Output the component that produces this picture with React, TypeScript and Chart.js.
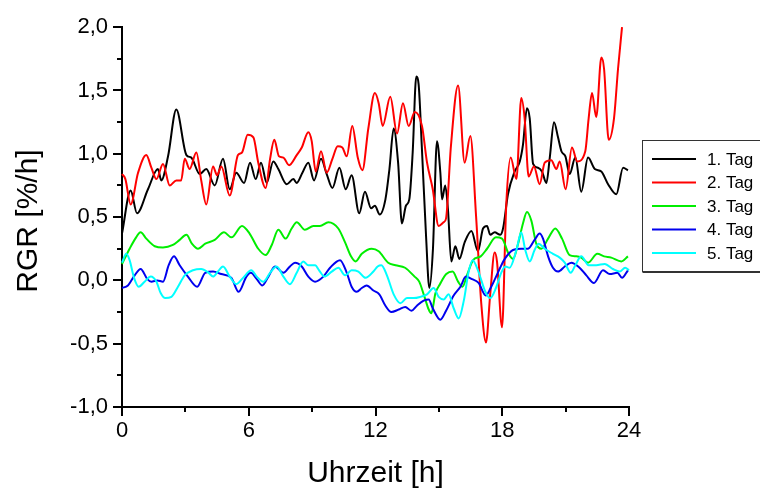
import React, { useEffect, useRef } from "react";
import { Chart, registerables } from "chart.js";

Chart.register(...registerables);

// Relative growth rate over the day, five consecutive days
const tag1Hours = [0, 0.41, 0.71, 1.23, 1.7, 1.86, 2.18, 2.57, 3.05, 3.28, 3.68, 3.99, 4.39, 4.78, 5.1, 5.41, 5.78, 6.06, 6.33, 6.58, 6.85, 7.16, 7.4, 7.8, 8.11, 8.27, 8.54, 8.82, 9.09, 9.42, 9.69, 9.96, 10.29, 10.59, 10.87, 11.23, 11.5, 11.79, 11.97, 12.2, 12.47, 12.66, 12.86, 13.07, 13.25, 13.44, 13.6, 13.76, 13.93, 14.04, 14.2, 14.39, 14.55, 14.72, 14.91, 15.07, 15.15, 15.3, 15.43, 15.59, 15.78, 15.97, 16.22, 16.54, 16.85, 17.09, 17.28, 17.43, 17.64, 17.91, 18.05, 18.27, 18.59, 18.83, 18.98, 19.17, 19.3, 19.46, 19.69, 19.88, 20.09, 20.25, 20.45, 20.64, 20.8, 20.99, 21.19, 21.46, 21.74, 22.06, 22.38, 22.69, 23.01, 23.4, 23.72, 23.95];
const tag1Rgr = [0.37, 0.71, 0.53, 0.72, 0.88, 0.79, 0.98, 1.35, 0.99, 0.97, 0.84, 0.88, 0.75, 0.96, 0.72, 0.85, 0.77, 0.93, 0.8, 0.93, 0.77, 0.94, 0.88, 0.76, 0.8, 0.77, 0.85, 0.93, 0.79, 0.96, 0.84, 0.73, 0.89, 0.72, 0.83, 0.53, 0.7, 0.57, 0.59, 0.52, 0.64, 0.88, 1.2, 0.93, 0.45, 0.59, 0.64, 1.01, 1.61, 1.55, 1.03, 0.36, -0.06, 0.25, 1.1, 0.85, 0.64, 0.75, 0.56, 0.15, 0.27, 0.17, 0.3, 0.39, 0.23, 0.41, 0.43, 0.36, 0.38, 0.36, 0.42, 0.68, 0.86, 0.94, 1.07, 1.36, 1.28, 0.92, 0.89, 0.86, 0.77, 0.97, 1.25, 1.13, 1.02, 0.98, 0.84, 0.97, 0.7, 0.97, 0.88, 0.86, 0.76, 0.68, 0.89, 0.87];

const tag2Hours = [0, 0.16, 0.41, 0.76, 1.15, 1.39, 1.63, 1.94, 2.26, 2.57, 2.8, 2.97, 3.2, 3.52, 3.75, 3.99, 4.31, 4.5, 4.7, 5.1, 5.49, 5.68, 5.95, 6.22, 6.45, 6.8, 7.01, 7.21, 7.43, 7.64, 7.91, 8.27, 8.51, 8.82, 8.98, 9.17, 9.42, 9.69, 9.96, 10.21, 10.43, 10.64, 10.9, 11.16, 11.38, 11.66, 11.97, 12.15, 12.34, 12.7, 13.02, 13.3, 13.57, 13.86, 14.2, 14.44, 14.71, 14.99, 15.23, 15.34, 15.57, 15.91, 16.22, 16.49, 16.76, 17.01, 17.23, 17.43, 17.64, 17.75, 17.99, 18.19, 18.4, 18.67, 18.9, 19.06, 19.25, 19.5, 19.77, 20.01, 20.32, 20.56, 20.72, 21.0, 21.3, 21.55, 21.93, 22.09, 22.25, 22.45, 22.69, 22.82, 23.04, 23.29, 23.48, 23.67];
const tag2Rgr = [0.84, 0.8, 0.6, 0.85, 0.99, 0.89, 0.8, 0.92, 0.75, 0.79, 0.79, 0.96, 0.88, 1.01, 0.79, 0.6, 0.9, 0.83, 0.9, 0.67, 0.99, 1.01, 1.15, 1.13, 0.93, 0.73, 0.96, 1.11, 0.98, 0.97, 0.91, 0.99, 1.05, 1.17, 1.1, 0.86, 1.02, 0.85, 0.96, 1.06, 1.05, 0.98, 1.22, 0.97, 0.87, 1.2, 1.48, 1.4, 1.22, 1.45, 1.16, 1.4, 1.22, 1.33, 1.22, 0.93, 0.72, 0.43, 0.46, 0.49, 1.06, 1.54, 0.93, 1.14, 0.51, -0.19, -0.49, -0.11, 0.22, 0.15, -0.37, 0.6, 0.97, 0.8, 1.44, 1.28, 0.82, 0.9, 0.76, 0.93, 0.95, 0.88, 0.94, 0.72, 1.05, 0.94, 1.02, 1.28, 1.48, 1.29, 1.76, 1.67, 1.11, 1.28, 1.67, 2.0];

const tag3Hours = [0, 0.36, 0.63, 0.88, 1.15, 1.55, 1.94, 2.41, 2.73, 3.05, 3.31, 3.6, 3.94, 4.39, 4.83, 5.18, 5.68, 6.04, 6.45, 6.8, 7.09, 7.4, 7.75, 8.03, 8.27, 8.66, 9.06, 9.37, 9.77, 10.24, 10.56, 10.84, 11.06, 11.35, 11.82, 12.15, 12.6, 12.95, 13.4, 13.85, 14.07, 14.3, 14.52, 14.64, 14.84, 15.05, 15.35, 15.65, 15.91, 16.12, 16.35, 16.62, 16.98, 17.28, 17.7, 17.99, 18.3, 18.51, 18.75, 18.98, 19.17, 19.38, 19.61, 19.85, 20.17, 20.51, 20.83, 21.19, 21.51, 21.74, 22.06, 22.5, 22.82, 23.16, 23.64, 23.95];
const tag3Rgr = [0.13, 0.25, 0.33, 0.38, 0.33, 0.27, 0.26, 0.28, 0.32, 0.36, 0.29, 0.25, 0.29, 0.32, 0.38, 0.34, 0.43, 0.37, 0.25, 0.2, 0.28, 0.4, 0.33, 0.41, 0.46, 0.4, 0.43, 0.43, 0.46, 0.41, 0.3, 0.19, 0.15, 0.21, 0.25, 0.23, 0.14, 0.12, 0.1, 0.03, -0.01, -0.12, -0.23, -0.26, -0.1, -0.03, 0.05, 0.07, -0.01, -0.05, 0.05, 0.16, 0.19, 0.25, 0.34, 0.33, 0.21, 0.17, 0.29, 0.45, 0.54, 0.47, 0.29, 0.25, 0.33, 0.41, 0.33, 0.2, 0.19, 0.18, 0.14, 0.21, 0.19, 0.18, 0.15, 0.19];

const tag4Hours = [0, 0.28, 0.6, 0.88, 1.2, 1.39, 1.67, 1.94, 2.21, 2.46, 2.73, 3.12, 3.56, 3.94, 4.31, 4.7, 5.18, 5.52, 5.89, 6.1, 6.38, 6.64, 6.93, 7.24, 7.64, 7.95, 8.19, 8.51, 8.82, 9.14, 9.53, 9.85, 10.32, 10.64, 10.87, 11.11, 11.35, 11.58, 11.9, 12.18, 12.47, 12.75, 13.1, 13.41, 13.7, 13.96, 14.28, 14.52, 14.71, 15.07, 15.34, 15.7, 16.02, 16.28, 16.57, 16.88, 17.22, 17.45, 17.68, 17.9, 18.12, 18.51, 18.9, 19.22, 19.53, 19.77, 19.93, 20.17, 20.4, 20.64, 20.96, 21.27, 21.66, 21.98, 22.34, 22.77, 23.09, 23.45, 23.67, 23.95];
const tag4Rgr = [-0.06, -0.04, 0.04, 0.09, 0.01, -0.01, 0.0, -0.01, 0.12, 0.19, 0.12, 0.03, -0.05, 0.06, 0.07, 0.05, 0.02, -0.09, 0.03, 0.06, 0.01, -0.04, 0.03, 0.11, 0.06, 0.11, 0.14, 0.11, 0.03, -0.01, 0.03, 0.1, 0.16, 0.06, -0.05, -0.09, -0.06, -0.04, -0.08, -0.11, -0.2, -0.25, -0.23, -0.21, -0.24, -0.2, -0.16, -0.15, -0.22, -0.31, -0.24, -0.12, -0.05, 0.03, 0.01, -0.02, -0.12, -0.06, 0.02, 0.1, 0.17, 0.24, 0.25, 0.25, 0.32, 0.37, 0.33, 0.19, 0.1, 0.07, 0.11, 0.14, 0.1, 0.04, -0.02, 0.08, 0.05, 0.06, 0.02, 0.08];

const tag5Hours = [0, 0.2, 0.36, 0.57, 0.79, 1.07, 1.36, 1.63, 1.83, 2.05, 2.34, 2.65, 2.97, 3.36, 3.75, 4.1, 4.31, 4.54, 4.78, 5.1, 5.41, 5.73, 6.12, 6.38, 6.69, 7.01, 7.32, 7.64, 7.95, 8.27, 8.58, 8.82, 9.14, 9.33, 9.58, 9.93, 10.24, 10.56, 10.87, 11.19, 11.53, 11.9, 12.1, 12.28, 12.54, 12.86, 13.18, 13.49, 13.81, 14.12, 14.44, 14.75, 14.99, 15.23, 15.46, 15.7, 15.94, 16.18, 16.41, 16.6, 16.85, 17.2, 17.43, 17.7, 17.95, 18.15, 18.35, 18.67, 18.9, 19.09, 19.3, 19.53, 19.72, 20.01, 20.4, 20.72, 20.96, 21.24, 21.46, 21.74, 22.09, 22.45, 22.85, 23.24, 23.56, 23.82, 24.0];
const tag5Rgr = [0.14, 0.21, 0.16, 0.02, -0.05, -0.01, 0.03, -0.01, -0.1, -0.14, -0.13, -0.05, 0.04, 0.08, 0.09, 0.06, 0.03, 0.07, 0.11, 0.03, -0.03, 0.02, 0.08, 0.03, -0.01, 0.06, 0.11, 0.03, -0.03, 0.06, 0.15, 0.12, 0.12, 0.08, 0.03, 0.07, 0.1, 0.04, 0.08, 0.07, 0.02, 0.07, 0.11, 0.12, 0.04, -0.11, -0.18, -0.14, -0.14, -0.13, -0.11, -0.06, -0.13, -0.15, -0.11, -0.22, -0.3, -0.16, 0.07, 0.16, 0.08, -0.09, -0.14, -0.06, 0.06, 0.11, 0.1, 0.24, 0.38, 0.24, 0.15, 0.24, 0.29, 0.25, 0.21, 0.18, 0.14, 0.06, 0.12, 0.19, 0.12, 0.12, 0.13, 0.09, 0.07, 0.1, 0.08];

const seriesLabels = ["1. Tag", "2. Tag", "3. Tag", "4. Tag", "5. Tag"];
const seriesColors = ["#000000", "#ff0000", "#00ee00", "#0000ee", "#00ffff"];
const seriesHours = [tag1Hours, tag2Hours, tag3Hours, tag4Hours, tag5Hours];
const seriesRgr = [tag1Rgr, tag2Rgr, tag3Rgr, tag4Rgr, tag5Rgr];

const xMajorTicks = [0, 6, 12, 18, 24];
const xMinorTicks = [3, 9, 15, 21];
const yMajorTicks = [-1, -0.5, 0, 0.5, 1, 1.5, 2];
const yMinorTicks = [-0.75, -0.25, 0.25, 0.75, 1.25, 1.75];

const xTitle = "Uhrzeit [h]";
const yTitle = "RGR [%/h]";

const FONT = "'Liberation Sans', Arial, Helvetica, sans-serif";

const decorations = {
  id: "decorations",
  afterDraw(chart: any) {
    const { ctx, chartArea } = chart;
    const xs = chart.scales.x;
    const ys = chart.scales.y;
    ctx.save();
    ctx.strokeStyle = "#000";
    ctx.lineWidth = 2;
    ctx.lineCap = "butt";

    // tick marks, pointing outwards
    const yTick = (v: number, len: number) => {
      const p = Math.round(ys.getPixelForValue(v));
      ctx.beginPath();
      ctx.moveTo(chartArea.left - len, p);
      ctx.lineTo(chartArea.left, p);
      ctx.stroke();
    };
    const xTick = (v: number, len: number) => {
      const p = Math.round(xs.getPixelForValue(v));
      ctx.beginPath();
      ctx.moveTo(p, chartArea.bottom);
      ctx.lineTo(p, chartArea.bottom + len);
      ctx.stroke();
    };
    yMajorTicks.forEach((v) => yTick(v, 9));
    yMinorTicks.forEach((v) => yTick(v, 5));
    xMajorTicks.forEach((v) => xTick(v, 9));
    xMinorTicks.forEach((v) => xTick(v, 5));

    // axis titles
    ctx.fillStyle = "#000";
    ctx.font = `30px ${FONT}`;
    ctx.textAlign = "center";
    ctx.textBaseline = "alphabetic";
    ctx.fillText(xTitle, (chartArea.left + chartArea.right) / 2, 482);
    ctx.save();
    ctx.translate(37, 221);
    ctx.rotate(-Math.PI / 2);
    ctx.fillText(yTitle, 0, 0);
    ctx.restore();

    // legend box, running past the right edge
    const bx = 642.5;
    const by = 140.5;
    const bh = 131;
    ctx.lineWidth = 1;
    ctx.strokeStyle = "#333";
    ctx.strokeRect(bx, by, 140, bh);
    ctx.beginPath();
    ctx.moveTo(bx, by + bh + 1);
    ctx.lineTo(bx + 140, by + bh + 1);
    ctx.stroke();
    ctx.font = `17px ${FONT}`;
    ctx.textAlign = "left";
    ctx.textBaseline = "middle";
    seriesLabels.forEach((label, i) => {
      const cy = 159 + i * 23.5;
      ctx.strokeStyle = seriesColors[i];
      ctx.lineWidth = 2;
      ctx.beginPath();
      ctx.moveTo(652, cy);
      ctx.lineTo(696, cy);
      ctx.stroke();
      ctx.fillStyle = "#000";
      ctx.fillText(label, 707, cy + 1);
    });
    ctx.restore();
  },
};

export default function App() {
  const canvasRef = useRef<HTMLCanvasElement | null>(null);

  useEffect(() => {
    const canvas = canvasRef.current;
    if (!canvas) return;

    const datasets = seriesLabels.map((label, i) => ({
      label,
      data: seriesHours[i].map((h, k) => ({ x: h, y: seriesRgr[i][k] })),
      borderColor: seriesColors[i],
      backgroundColor: seriesColors[i],
      borderWidth: 2,
      pointRadius: 0,
      cubicInterpolationMode: "monotone" as const,
      fill: false,
      clip: 4,
      order: seriesLabels.length - i,
    }));

    const chart = new Chart(canvas, {
      type: "line",
      data: { datasets },
      options: {
        responsive: false,
        animation: false,
        devicePixelRatio: 1,
        layout: { padding: { left: 0, right: 131, top: 23, bottom: 0 } },
        plugins: {
          legend: { display: false },
          tooltip: { enabled: false },
        },
        scales: {
          x: {
            type: "linear",
            min: 0,
            max: 24,
            afterBuildTicks: (s: any) => {
              s.ticks = xMajorTicks.map((v) => ({ value: v }));
            },
            afterFit: (s: any) => {
              s.height = 82;
            },
            grid: { display: true, drawOnChartArea: false, drawTicks: false },
            border: { display: true, color: "#000", width: 2 },
            ticks: {
              color: "#000",
              font: { size: 22, family: FONT },
              padding: 11,
              maxRotation: 0,
              autoSkip: false,
              callback: (v: any) => String(v),
            },
          },
          y: {
            type: "linear",
            min: -1,
            max: 2,
            afterBuildTicks: (s: any) => {
              s.ticks = yMajorTicks.map((v) => ({ value: v }));
            },
            afterFit: (s: any) => {
              s.width = 122;
            },
            grid: { display: true, drawOnChartArea: false, drawTicks: false },
            border: { display: true, color: "#000", width: 2 },
            ticks: {
              color: "#000",
              font: { size: 22, family: FONT },
              padding: 14,
              autoSkip: false,
              callback: (v: any) => Number(v).toFixed(1).replace(".", ","),
            },
          },
        },
      },
      plugins: [decorations],
    });

    return () => chart.destroy();
  }, []);

  return (
    <div style={{ position: "absolute", left: 0, top: 0, width: 760, height: 489, background: "#fff" }}>
      <canvas ref={canvasRef} width={760} height={489} />
    </div>
  );
}
